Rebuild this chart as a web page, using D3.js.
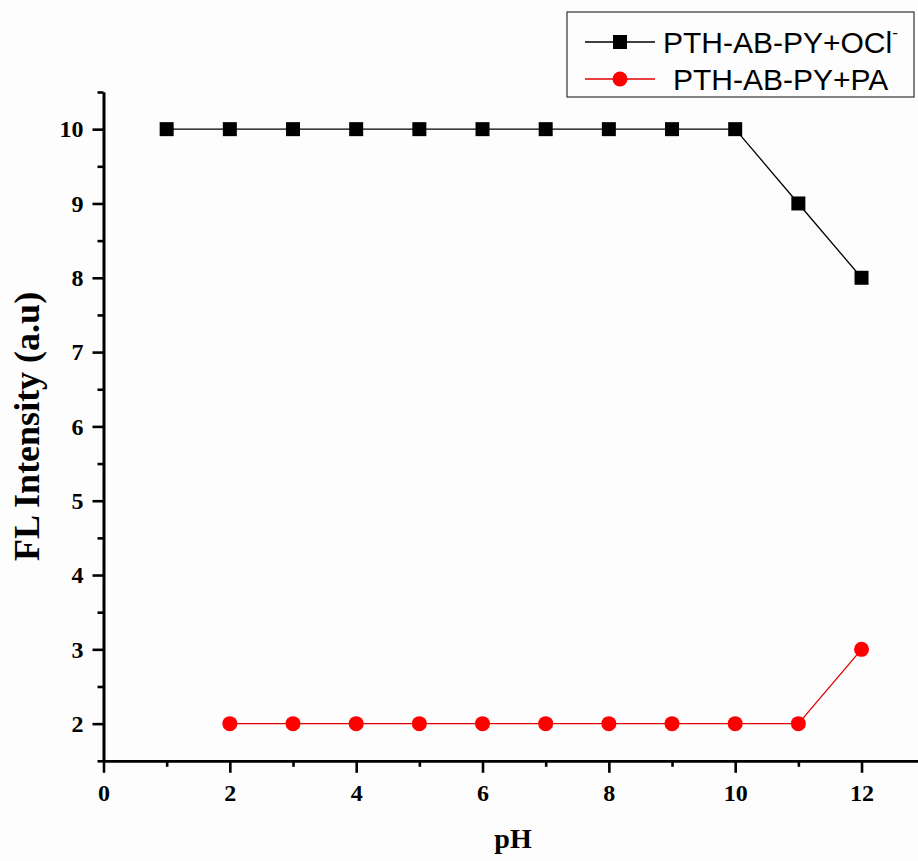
<!DOCTYPE html>
<html><head><meta charset="utf-8">
<script src="https://cdn.jsdelivr.net/npm/d3@7"></script>
<style>body{margin:0;background:#fdfdfd}svg{display:block}</style>
</head><body>
<script>
const phOCl = [1,2,3,4,5,6,7,8,9,10,11,12];
const flOCl = [10,10,10,10,10,10,10,10,10,10,9,8];
const phPA = [2,3,4,5,6,7,8,9,10,11,12];
const flPA = [2,2,2,2,2,2,2,2,2,2,3];
const xMajor = [0,2,4,6,8,10,12];
const xMinor = [1,3,5,7,9,11];
const yMajor = [2,3,4,5,6,7,8,9,10];
const yMinor = [1.5,2.5,3.5,4.5,5.5,6.5,7.5,8.5,9.5,10.5];
const seriesNames = ["PTH-AB-PY+OCl", "PTH-AB-PY+PA"];

const W = 918, H = 861;
const svg = d3.select("body").append("svg").attr("width", W).attr("height", H);
svg.append("rect").attr("width", W).attr("height", H).attr("fill", "#fdfdfd");

const x = d3.scaleLinear().domain([0, 13]).range([103.5, 924.7]);
const y = d3.scaleLinear().domain([1.5, 10.5]).range([760.8, 92]);

const serif = "'Liberation Serif','Times New Roman',serif";

const xAxisMinor = d3.axisBottom(x).tickValues(xMinor).tickSize(6).tickSizeOuter(0).tickFormat("");
const xAxis = d3.axisBottom(x).tickValues(xMajor).tickSize(12).tickSizeOuter(0).tickPadding(11).tickFormat(d3.format("d"));
const yAxisMinor = d3.axisLeft(y).tickValues(yMinor).tickSize(6).tickSizeOuter(0).tickFormat("");
const yAxis = d3.axisLeft(y).tickValues(yMajor).tickSize(11).tickSizeOuter(0).tickPadding(9).tickFormat(d3.format("d"));

function style(g){
  g.attr("font-size", null).attr("font-family", null);
  g.selectAll("path.domain").attr("stroke","#000").attr("stroke-width",2.6);
  g.selectAll(".tick line").attr("stroke","#000").attr("stroke-width",2.6);
  g.selectAll("text").attr("fill","#000").style("font-family",serif).style("font-weight","bold").style("font-size","24px");
}
svg.append("g").attr("transform",`translate(0,${y(1.5)})`).call(xAxisMinor).call(style);
svg.append("g").attr("transform",`translate(0,${y(1.5)})`).call(xAxis).call(style);
svg.append("g").attr("transform",`translate(${x(0)},0)`).call(yAxisMinor).call(style);
svg.append("g").attr("transform",`translate(${x(0)},0)`).call(yAxis).call(style);

svg.append("text").attr("x", 513).attr("y", 848).attr("text-anchor","middle")
  .style("font-family",serif).style("font-weight","bold").style("font-size","28px").text("pH");
svg.append("text").attr("transform",`translate(39,${(y(1.5)+y(10.5))/2}) rotate(-90)`).attr("text-anchor","middle")
  .style("font-family",serif).style("font-weight","bold").style("font-size","36px").text("FL Intensity (a.u)");

const line = d3.line().x(d=>x(d[0])).y(d=>y(d[1]));
const dOCl = phOCl.map((p,i)=>[p, flOCl[i]]);
const dPA = phPA.map((p,i)=>[p, flPA[i]]);
svg.append("path").datum(dOCl).attr("d", line).attr("fill","none").attr("stroke","#000").attr("stroke-width",1.3);
svg.append("path").datum(dPA).attr("d", line).attr("fill","none").attr("stroke","#e00000").attr("stroke-width",1.3);
const S = 14;
svg.selectAll("rect.m").data(dOCl).enter().append("rect")
  .attr("x", d=>x(d[0])-S/2).attr("y", d=>y(d[1])-S/2).attr("width",S).attr("height",S).attr("fill","#000");
svg.selectAll("circle.m").data(dPA).enter().append("circle")
  .attr("cx", d=>x(d[0])).attr("cy", d=>y(d[1])).attr("r",7.5).attr("fill","#ff0000");

const lg = svg.append("g");
lg.append("rect").attr("x",567).attr("y",12).attr("width",347).attr("height",85)
  .attr("fill","none").attr("stroke","#333").attr("stroke-width",1.2);
const rows = [42, 79];
lg.append("line").attr("x1",585).attr("x2",655).attr("y1",rows[0]).attr("y2",rows[0]).attr("stroke","#000").attr("stroke-width",1.3);
lg.append("rect").attr("x",620-S/2).attr("y",rows[0]-S/2).attr("width",S).attr("height",S).attr("fill","#000");
lg.append("line").attr("x1",585).attr("x2",655).attr("y1",rows[1]).attr("y2",rows[1]).attr("stroke","#e00000").attr("stroke-width",1.3);
lg.append("circle").attr("cx",620).attr("cy",rows[1]).attr("r",7.5).attr("fill","#ff0000");
const sans = "'Liberation Sans',Arial,sans-serif";
const t1 = lg.append("text").attr("x",663).attr("y",rows[0]+11).style("font-family",sans).style("font-size","30px");
t1.append("tspan").text(seriesNames[0]);
t1.append("tspan").attr("dy",-15).style("font-size","17px").text("-");
lg.append("text").attr("x",673).attr("y",rows[1]+11).style("font-family",sans).style("font-size","30px").text(seriesNames[1]);
</script>
</body></html>
